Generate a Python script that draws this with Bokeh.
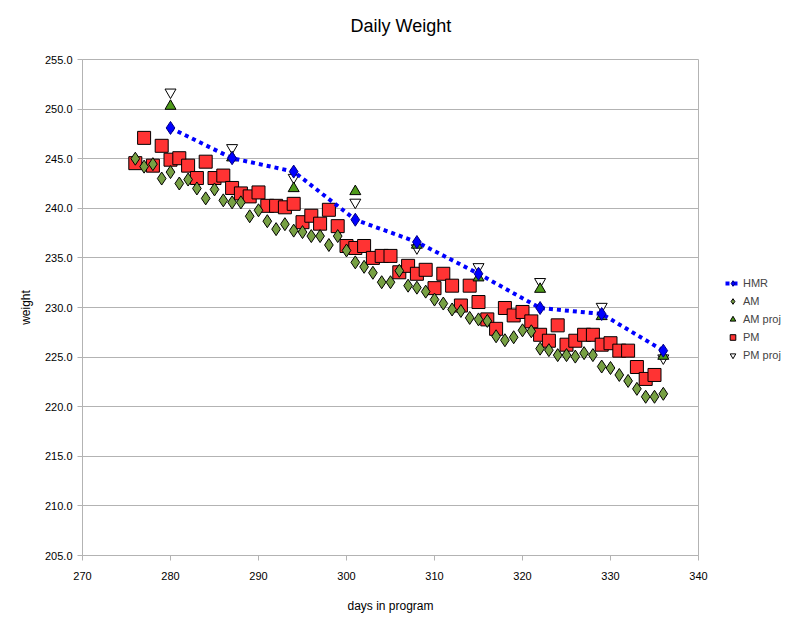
from bokeh.plotting import figure
from bokeh.models import (Range1d, FixedTicker, NumeralTickFormatter, Legend, LegendItem, Title)
from bokeh.embed import file_html
from bokeh.resources import INLINE

# ---- data ----
am_days = list(range(276, 337))
am_vals = [245.0, 244.2, 244.45, 243.0, 243.65, 242.5, 242.9, 242.0, 241.0, 241.9,
           240.8, 240.6, 240.6, 239.2, 239.8, 238.7, 237.9, 238.4, 237.75, 237.6,
           237.2, 237.2, 236.3, 237.2, 235.75, 234.55, 234.1, 233.5, 232.55, 232.55,
           233.7, 232.2, 232.0, 231.6, 230.8, 230.4, 229.8, 229.65, 228.95, 228.8,
           228.65, 227.1, 226.7, 227.0, 227.7, 227.6, 225.85, 225.7, 225.2, 225.2,
           225.05, 225.4, 225.2, 224.05, 223.9, 223.2, 222.6, 221.8, 221.0, 221.0,
           221.3]

pm_days = list(range(276, 336))
pm_vals = [244.55, 247.1, 244.3, 246.3, 244.9, 245.05, 244.3, 243.05, 244.7, 243.05,
           243.3, 242.05, 241.5, 241.2, 241.6, 240.25, 240.25, 240.1, 240.45, 238.6,
           239.25, 238.45, 239.85, 238.2, 236.2, 236.0, 236.2, 235.0, 235.2, 235.2,
           233.55, 234.2, 233.4, 233.8, 231.95, 233.4, 232.2, 230.2, 232.2, 230.55,
           228.8, 227.85, 229.95, 229.2, 229.55, 228.6, 227.25, 226.65, 228.2, 226.25,
           226.65, 227.25, 227.25, 226.25, 226.4, 225.65, 225.65, 224.0, 222.8, 223.2]

week_days = [280, 287, 294, 301, 308, 315, 322, 329, 336]
hmr_vals = [248.1, 245.05, 243.7, 238.85, 236.6, 233.4, 229.95, 229.35, 225.65]
am_proj_vals = [250.3, 245.1, 242.0, 241.7, 236.3, 233.0, 231.85, 229.1, 225.1]
pm_proj_vals = [251.7, 246.1, 243.1, 240.6, 236.0, 234.1, 232.6, 230.1, 224.9]

x_ticks = [270, 280, 290, 300, 310, 320, 330, 340]
y_ticks = [205, 210, 215, 220, 225, 230, 235, 240, 245, 250, 255]

FONT = "Liberation Sans"
GRAY = "#b3b3b3"

p = figure(frame_width=616, frame_height=496, output_backend="svg", toolbar_location=None,
           x_range=Range1d(270, 340), y_range=Range1d(205, 255),
           min_border_left=82, min_border_right=86, min_border_top=59, min_border_bottom=69,
           title="Daily Weight")

p.title.text_font = FONT
p.title.text_font_size = "18px"
p.title.text_font_style = "normal"
p.title.text_color = "black"
p.title.align = "left"
p.title.offset = 268
p.title.standoff = 0

# empty spacer between the title and the plot area
p.add_layout(Title(text=" ", text_font_size="1px", standoff=21), "above")

p.background_fill_color = "white"
p.border_fill_color = "white"
p.outline_line_color = GRAY
p.xgrid.visible = False
p.ygrid.grid_line_color = GRAY

for ax in (p.xaxis[0], p.yaxis[0]):
    ax.axis_line_color = GRAY
    ax.major_tick_line_color = GRAY
    ax.major_tick_out = 5
    ax.major_tick_in = 0
    ax.minor_tick_line_color = None
    ax.major_label_text_font = FONT
    ax.major_label_text_font_size = "11px"
    ax.major_label_text_color = "black"
    ax.axis_label_text_font = FONT
    ax.axis_label_text_font_size = "12px"
    ax.axis_label_text_font_style = "normal"
    ax.axis_label_text_color = "black"

p.xaxis.ticker = FixedTicker(ticks=x_ticks)
p.yaxis.ticker = FixedTicker(ticks=y_ticks)
p.yaxis.formatter = NumeralTickFormatter(format="0.0")
p.xaxis.axis_label = "days in program"
p.yaxis.axis_label = "weight"
p.xaxis.major_label_standoff = 11
p.yaxis.major_label_standoff = 5
p.xaxis.axis_label_standoff = 16
p.yaxis.axis_label_standoff = 9

# draw order: PM proj, PM, AM proj, AM, HMR
r_pmp = p.scatter(week_days, pm_proj_vals, marker="inverted_triangle", size=11,
                  fill_color="white", line_color="black", line_width=1)
r_pm = p.scatter(pm_days, pm_vals, marker="square", size=13,
                 fill_color="#ff3333", line_color="black", line_width=1)
r_amp = p.scatter(week_days, am_proj_vals, marker="triangle", size=11,
                  fill_color="#4e9a1a", line_color="black", line_width=1)
r_am = p.scatter(am_days, am_vals, marker="diamond", size=13,
                 fill_color="#77a043", line_color="black", line_width=1)
r_hl = p.line(week_days, hmr_vals, line_color="#0000ff", line_width=4,
              line_dash="4 4", line_cap="butt")
r_hm = p.scatter(week_days, hmr_vals, marker="diamond", size=13,
                 fill_color="#0000ff", line_color="#000080", line_width=1)

legend = Legend(items=[
    LegendItem(label="HMR", renderers=[r_hl, r_hm]),
    LegendItem(label="AM", renderers=[r_am]),
    LegendItem(label="AM proj", renderers=[r_amp]),
    LegendItem(label="PM", renderers=[r_pm]),
    LegendItem(label="PM proj", renderers=[r_pmp]),
], location=(27, 193))
legend.margin = 0
legend.padding = 0
legend.border_line_color = None
legend.background_fill_alpha = 0
legend.label_text_font = FONT
legend.label_text_font_size = "11px"
legend.glyph_width = 15
legend.glyph_height = 14
legend.label_height = 14
legend.label_standoff = 3
legend.spacing = 4
p.add_layout(legend, "right")

open("out.html", "w").write(file_html(p, INLINE))
